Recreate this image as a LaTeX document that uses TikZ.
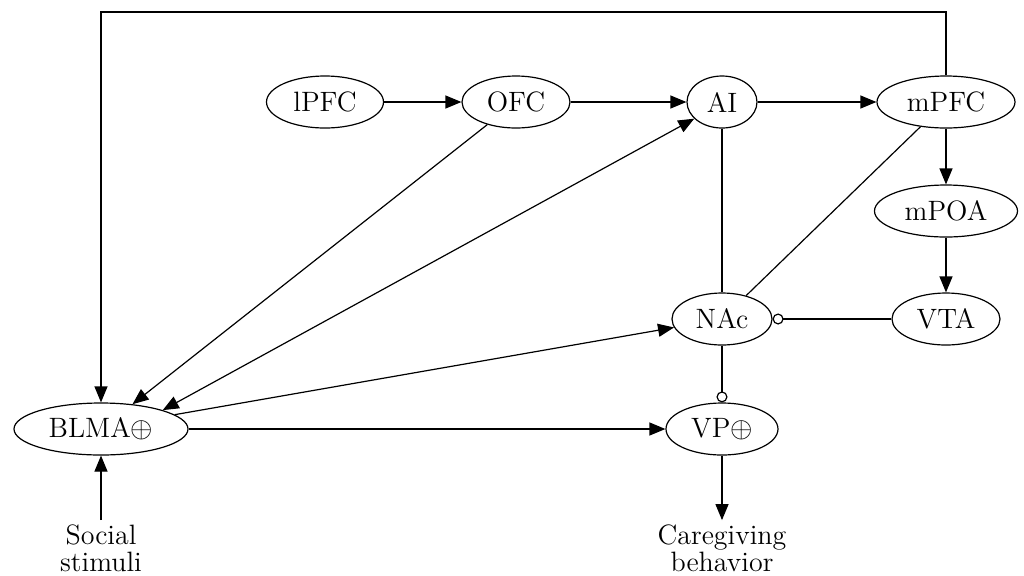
\documentclass[tikz,border=0pt]{standalone}
\usetikzlibrary{shapes.geometric,arrows.meta}
\begin{document}
\begin{tikzpicture}[x=0.5pt,y=-0.5pt,
  every node/.style={font=\fontsize{14}{13.5}\selectfont},
  region/.style={draw, ellipse, inner sep=0pt, minimum height=26pt, line width=0.6pt},
  label/.style={align=center, inner sep=2pt},
  link/.style={line width=0.6pt},
  arr/.style={link, -{Triangle[length=8pt,width=6.5pt]}},
  biarr/.style={link, {Triangle[length=8pt,width=6.5pt]}-{Triangle[length=8pt,width=6.5pt]}},
  inh/.style={link, -{Circle[open,length=5.5pt,width=5.5pt]}}]
\useasboundingbox (0,0) rectangle (1024,575);

% brain regions
\node[region, minimum width=58.5pt] (lpfc) at (325,102) {lPFC};
\node[region, minimum width=54pt]   (ofc)  at (516,102) {OFC};
\node[region, minimum width=35pt]   (ai)   at (722,102) {AI};
\node[region, minimum width=69pt]   (mpfc) at (946,102) {mPFC};
\node[region, minimum width=71.5pt] (mpoa) at (946,211) {mPOA};
\node[region, minimum width=54pt]   (vta)  at (946,319) {VTA};
\node[region, minimum width=50pt]   (nac)  at (722,319) {NAc};
\node[region, minimum width=56pt]   (vp)   at (722,429) {VP$\oplus$};
\node[region, minimum width=87pt]   (blma) at (101,429) {BLMA$\oplus$};

% input and output
\node[label] (stim) at (101,548) {Social\\stimuli};
\node[label] (care) at (722,548) {Caregiving\\behavior};
\coordinate (topleft) at (101,12);

% excitatory projections
\draw[arr] (lpfc) -- (ofc);
\draw[arr] (ofc) -- (ai);
\draw[arr] (ai) -- (mpfc);
\draw[arr] (mpfc) -- (mpoa);
\draw[arr] (mpoa) -- (vta);
\draw[arr] (ofc) -- (blma);
\draw[biarr] (blma.17) -- (ai.211);
\draw[arr] (blma.11) -- (nac.190);
\draw[arr] (blma) -- (vp);
\draw[arr] (mpfc.north) |- (topleft) -- (blma.north);
\draw[arr] (stim) -- (blma);
\draw[arr] (vp) -- (care);

% plain connections
\draw[link] (ai) -- (nac);
\draw[link] (mpfc) -- (nac);

% inhibitory projections
\draw[inh] (vta) -- (nac);
\draw[inh] (nac) -- (vp);
\end{tikzpicture}
\end{document}
